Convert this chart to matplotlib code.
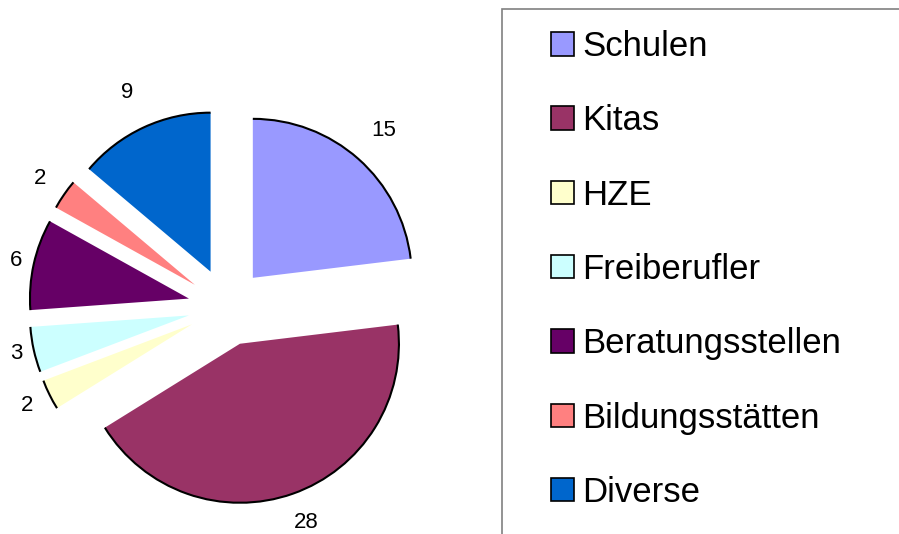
import math
import matplotlib
matplotlib.use('Agg')
import matplotlib.pyplot as plt
from matplotlib.patches import Arc, Rectangle, Patch

categories = ['Schulen', 'Kitas', 'HZE', 'Freiberufler', 'Beratungsstellen',
              'Bildungsstätten', 'Diverse']
values = [15, 28, 2, 3, 6, 2, 9]
colors = ['#9999FF', '#993366', '#FFFFCC', '#CCFFFF', '#660066', '#FF8080', '#0066CC']

plt.rcParams['font.family'] = ['Liberation Sans', 'DejaVu Sans']

W, H = 899, 534
fig = plt.figure(figsize=(W / 100, H / 100), dpi=100)
ax = fig.add_axes([0, 0, 1, 1])

R = 159
cx, cy = 227, H - 307
explode = 0.245 * R
wedges, texts = ax.pie(values, colors=colors, labels=[str(v) for v in values],
                       startangle=90, counterclock=False, radius=R,
                       center=(cx, cy), explode=[explode] * len(values),
                       labeldistance=1.2, wedgeprops=dict(linewidth=0),
                       textprops=dict(fontsize=16), frame=True)

ax.set_xlim(0, W)
ax.set_ylim(0, H)
ax.set_aspect('equal')
ax.axis('off')

renderer = fig.canvas.get_renderer()
# outer arc outline and label positions (label box placed just outside the arc)
for w, t in zip(wedges, texts):
    ax.add_patch(Arc(w.center, 2 * w.r, 2 * w.r, theta1=w.theta1, theta2=w.theta2,
                     color='black', lw=1.5, zorder=3))
    th = math.radians((w.theta1 + w.theta2) / 2)
    ux, uy = math.cos(th), math.sin(th)
    tw = t.get_window_extent(renderer).width
    d = w.r + 4 + 35 * abs(uy) + tw / 2 * abs(ux)
    px = w.center[0] + d * ux
    py = max(w.center[1] + d * uy, 11)
    t.set_position((px, py))
    t.set_ha('center')
    t.set_va('center')

# legend frame (extends beyond figure edges)
fig.patches.append(Rectangle((502 / W, -0.2), 1.0, 1.2 - 9 / H,
                             transform=fig.transFigure, fill=False,
                             edgecolor='#808080', lw=1.2))

handles = [Patch(facecolor=c, edgecolor='black', lw=1.2) for c in colors]
fig.legend(handles, categories, loc='upper left',
           bbox_to_anchor=(551 / W, 1 - 30 / H), frameon=False, fontsize=25,
           handlelength=0.66, handleheight=0.66, handletextpad=0.25,
           labelspacing=1.19, borderpad=0, borderaxespad=0)

fig.savefig('out.png', dpi=100)
